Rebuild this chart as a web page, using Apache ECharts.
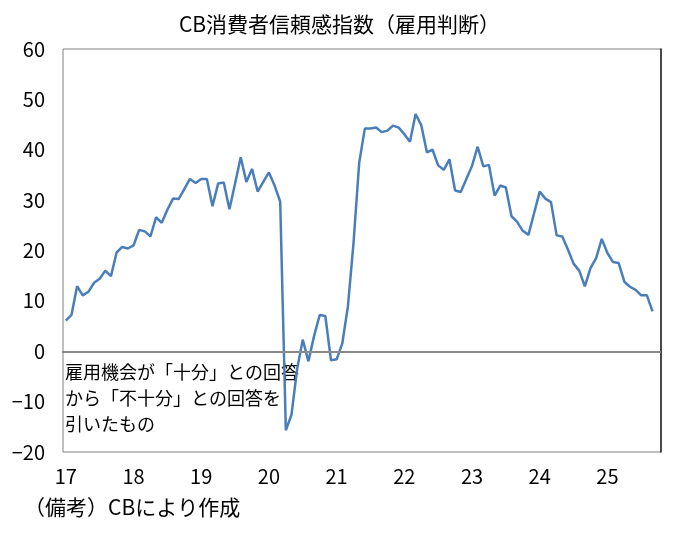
<!DOCTYPE html>
<html>
<head>
<meta charset="utf-8">
<script src="https://cdn.jsdelivr.net/npm/echarts@6/dist/echarts.min.js"></script>
<style>
  html, body { margin: 0; padding: 0; background: #fff; }
  #chart { width: 679px; height: 540px; }
</style>
</head>
<body>
<div id="chart"></div>
<script>
// 雇用判断DI（「十分」−「不十分」）、月次
const v2017 = [6.1, 7.2, 12.9, 11.1, 11.8, 13.6, 14.4, 16.0, 14.9, 19.6, 20.7, 20.4];
const v2018 = [21.0, 24.1, 23.8, 22.8, 26.6, 25.5, 28.1, 30.3, 30.2, 32.2, 34.2, 33.4];
const v2019 = [34.2, 34.2, 28.8, 33.3, 33.5, 28.2, 33.3, 38.5, 33.6, 36.2, 31.7, 33.6];
const v2020 = [35.5, 32.9, 29.7, -15.7, -12.6, -3.5, 2.3, -2.0, 3.0, 7.2, 7.0, -1.8];
const v2021 = [-1.6, 1.5, 8.9, 21.5, 37.4, 44.2, 44.2, 44.4, 43.5, 43.8, 44.8, 44.4];
const v2022 = [43.1, 41.6, 47.1, 44.9, 39.5, 40.0, 36.9, 36.0, 38.1, 31.9, 31.6, 34.2];
const v2023 = [36.8, 40.6, 36.7, 37.0, 30.9, 32.9, 32.5, 26.8, 25.7, 23.9, 23.1, 27.4];
const v2024 = [31.7, 30.3, 29.6, 23.0, 22.8, 20.2, 17.4, 16.0, 12.9, 16.5, 18.5, 22.3];
const v2025 = [19.5, 17.7, 17.5, 13.8, 12.8, 12.2, 11.1, 11.1, 7.9];

const years = ['17', '18', '19', '20', '21', '22', '23', '24', '25'];
const yTicks = { min: -20, max: 60, interval: 10 };

let values = [].concat(v2017, v2018, v2019, v2020, v2021, v2022, v2023, v2024, v2025);

// 月のカテゴリ（2017年1月〜2025年10月）
let months = [];
years.forEach(function (y) {
    for (let m = 1; m <= 12; m++) {
        months.push(y + '/' + m);
    }
});
months = months.slice(0, 106);

const font = "'Noto Sans CJK JP', 'Noto Sans', sans-serif";

let chart = echarts.init(document.getElementById('chart'));
let option = {
    backgroundColor: '#fff',
    animation: false,
    textStyle: { fontFamily: font },
    title: {
        text: 'CB消費者信頼感指数（雇用判断）',
        left: 'center',
        top: 9,
        textStyle: { fontSize: 21, fontWeight: 'normal', color: '#000', fontFamily: font }
    },
    grid: {
        left: 63,
        right: 18,
        top: 49,
        bottom: 88,
        show: true,
        borderColor: '#808080',
        borderWidth: 1
    },
    xAxis: {
        type: 'category',
        data: months,
        boundaryGap: true,
        axisLine: { lineStyle: { color: '#222', width: 1.5 } },
        axisTick: { show: false },
        axisLabel: {
            interval: 11,
            margin: 14,
            fontSize: 20,
            color: '#000',
            fontFamily: font,
            formatter: function (v) { return v.split('/')[0]; }
        },
        splitLine: { show: false }
    },
    yAxis: [
        {
            type: 'value',
            min: yTicks.min,
            max: yTicks.max,
            interval: yTicks.interval,
            axisLine: { show: false },
            axisTick: { show: false },
            axisLabel: {
                margin: 18,
                fontSize: 20,
                color: '#000',
                fontFamily: font,
                formatter: function (v) { return v < 0 ? '−' + Math.abs(v) : String(v); }
            },
            splitLine: { show: false }
        },
        {
            type: 'value',
            position: 'right',
            min: yTicks.min,
            max: yTicks.max,
            interval: yTicks.interval,
            axisLine: { show: true, lineStyle: { color: '#222', width: 1.5 } },
            axisTick: { show: false },
            axisLabel: { show: false },
            splitLine: { show: false }
        }
    ],
    series: [
        {
            type: 'line',
            data: values,
            symbol: 'none',
            lineStyle: { color: '#4A7EBB', width: 2.5 },
            markLine: {
                silent: true,
                symbol: 'none',
                label: { show: false },
                lineStyle: { color: '#999', width: 1.5, type: 'solid' },
                data: [{ yAxis: 0 }]
            },
            z: 3
        }
    ],
    graphic: [
        {
            type: 'text',
            left: 65,
            top: 359,
            style: {
                text: '雇用機会が「十分」との回答\nから「不十分」との回答を\n引いたもの',
                fontSize: 18,
                lineHeight: 26,
                fill: '#000',
                fontFamily: font
            }
        },
        {
            type: 'text',
            left: 24,
            top: 497,
            style: {
                text: '（備考）CBにより作成',
                fontSize: 21,
                fill: '#000',
                fontFamily: font
            }
        }
    ]
};
chart.setOption(option);
</script>
</body>
</html>
